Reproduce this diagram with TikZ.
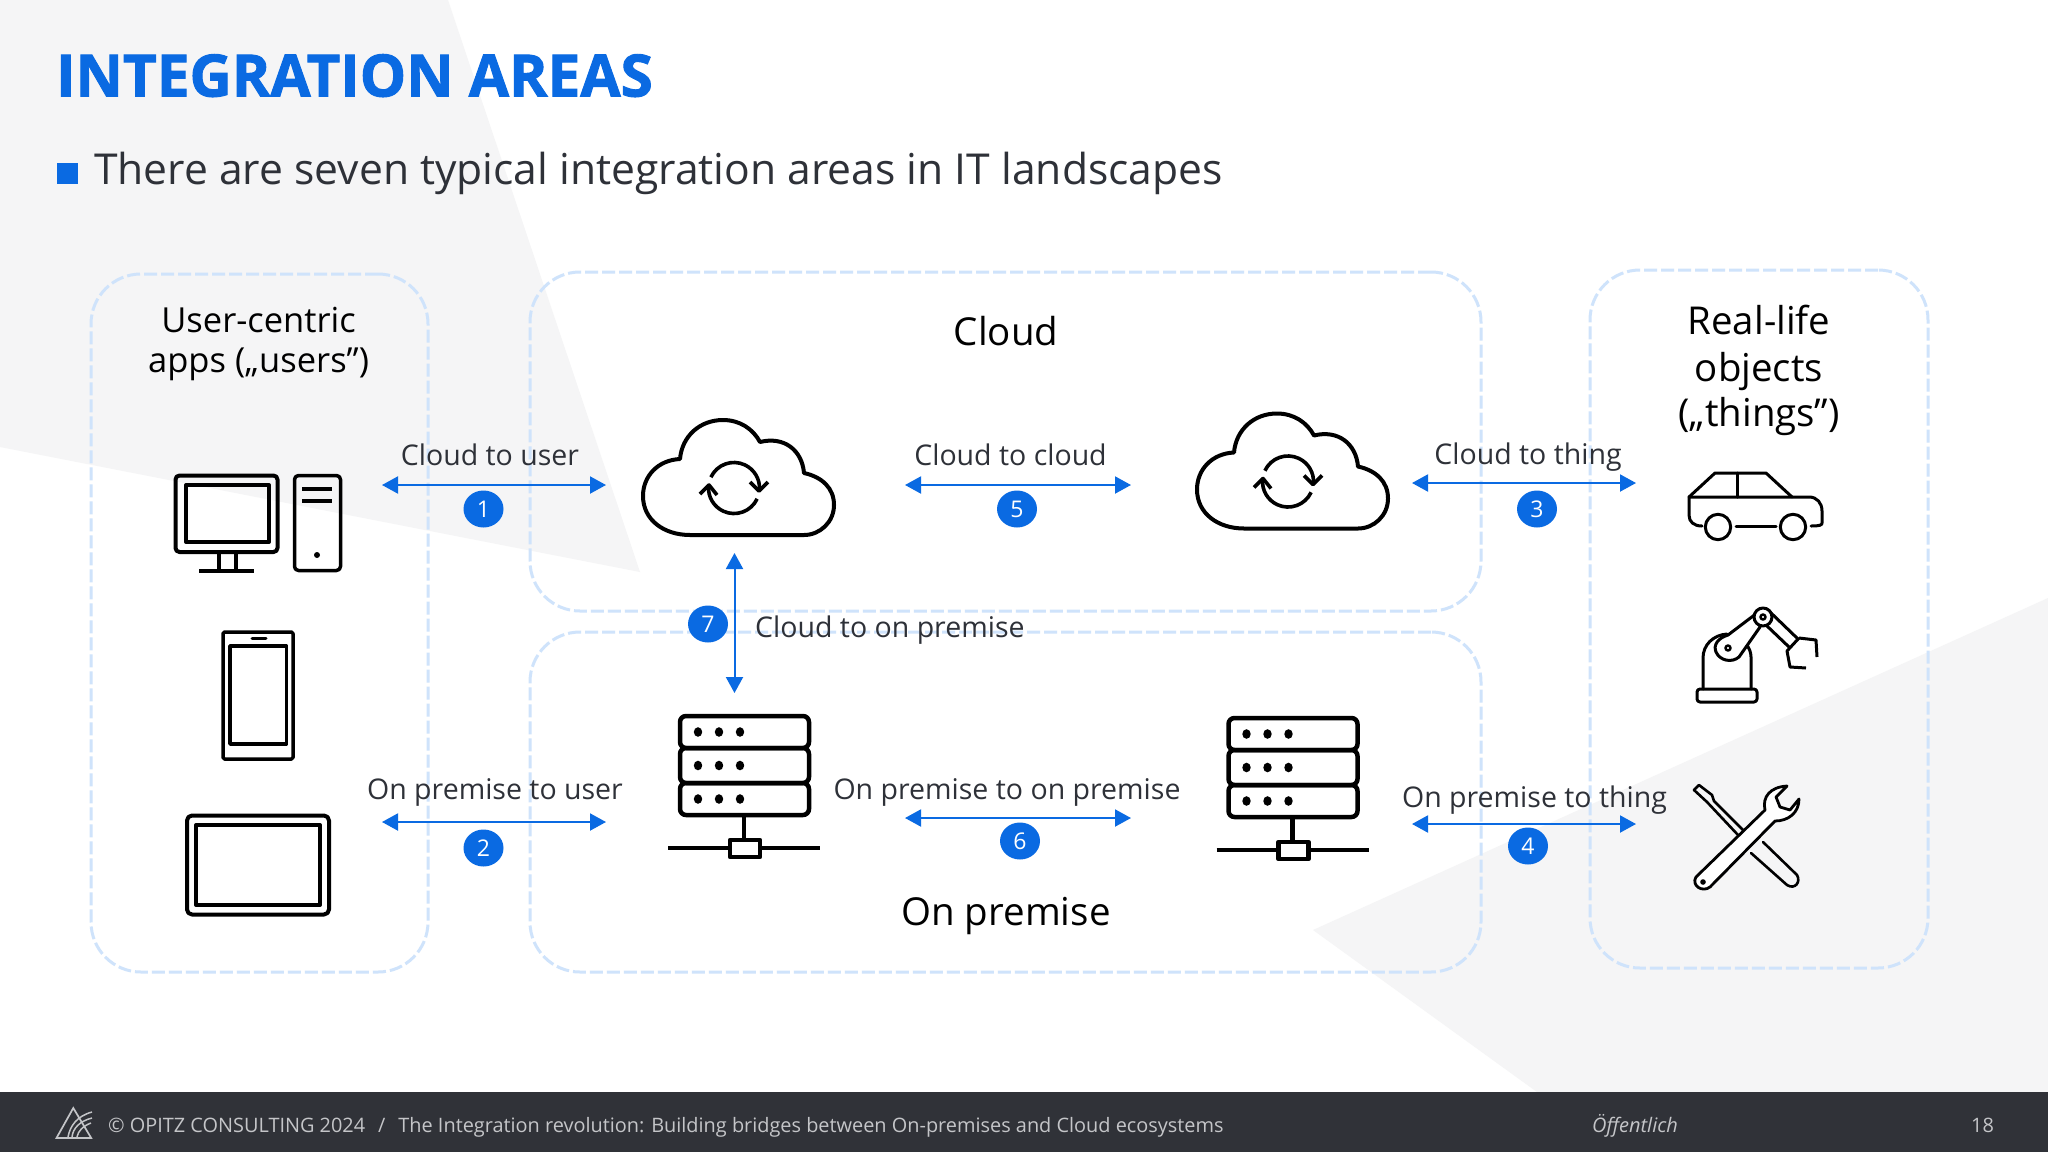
\documentclass[tikz,border=0pt]{standalone}
\usepackage{fontspec}
\usetikzlibrary{arrows.meta,shapes.geometric}
\setmainfont{Open Sans}
\newfontfamily\titlefont{Open Sans}[BoldFeatures={FakeBold=1.6}]
\definecolor{brand}{HTML}{0A6AE2}
\definecolor{boxblue}{HTML}{CFE3FB}
\definecolor{bgshade}{HTML}{F5F5F6}
\definecolor{footbar}{HTML}{303238}
\definecolor{foottext}{HTML}{C4C5C8}
\definecolor{bodytext}{HTML}{2E3138}
\newcommand{\fsz}[1]{\fontsize{#1}{#1}\selectfont}
\tikzset{
  areabox/.style={draw=boxblue,line width=3pt,dash pattern=on 13pt off 4pt,rounded corners=50pt,inner sep=0pt},
  link/.style={draw=brand,line width=2pt,{Triangle[length=16pt,width=17pt]}-{Triangle[length=16pt,width=17pt]}},
  badge/.style={ellipse,fill=brand,text=white,minimum width=40pt,minimum height=37pt,inner sep=0pt,font=\fsz{23}},
  lbl/.style={anchor=base,text=bodytext,font=\fsz{28.5},inner sep=0pt},
  head/.style={anchor=base,text=black,inner sep=0pt},
  icon/.style={draw=black,line width=4pt,line join=round,line cap=round},
  thin icon/.style={draw=black,line width=3pt,line join=round,line cap=round},
  foot/.style={anchor=base west,text=foottext,font=\fsz{19.9},inner sep=0pt},
}
\newcommand{\cloudicon}{%
  \draw[icon] (690,535) .. controls (664,535) and (643,520) .. (643,496)
    .. controls (643,476) and (658,460) .. (680,459)
    .. controls (682,436) and (700,420) .. (723,420)
    .. controls (740,420) and (753,429) .. (760,442)
    .. controls (784,436) and (802,450) .. (804,473)
    .. controls (822,477) and (834,488) .. (834,505)
    .. controls (834,522) and (820,535) .. (804,535) -- cycle;
  \draw[icon,line width=3.6pt,line cap=butt] (710.9,477.2) arc (205:364:25.5);
  \draw[icon,line width=3.6pt,line cap=butt] (757.1,498.8) arc (25:184:25.5);
  \draw[icon,line width=3.6pt,line cap=butt] (750,482) -- (759,491) -- (768,482);
  \draw[icon,line width=3.6pt,line cap=butt] (700,494) -- (709,485) -- (717,495);
}
\newcommand{\servericon}{%
  \foreach \ya/\yb in {716/748,748/783,783/815}{
    \draw[icon,line width=4.5pt,rounded corners=6pt] (680,\ya) rectangle (809,\yb);
    \foreach \dx in {698,719,740}{\fill (\dx,\ya/2+\yb/2) ellipse (4.2pt and 4.8pt);}
  }
  \draw[icon,line width=4.5pt,line cap=butt] (744,815) -- (744,848);
  \draw[icon,line width=4.5pt,line cap=butt] (668,848) -- (820,848);
  \draw[icon,line width=4.5pt,fill=white] (730,840) rectangle (760,857);
}
\begin{document}
\begin{tikzpicture}[x=1pt,y=-1pt]
\useasboundingbox (0,0) rectangle (2048,1152);
\fill[white] (0,0) rectangle (2048,1152);
% background shapes
\fill[bgshade] (0,0) -- (448,0) -- (640,572) -- (0,447) -- cycle;
\fill[bgshade] (1313,930) -- (2048,598) -- (2048,1092) -- (1537,1092) -- cycle;
% footer bar
\fill[footbar] (0,1092) rectangle (2048,1152);
% title
\node[anchor=base west,inner sep=0pt,text=brand,font=\titlefont\bfseries\fsz{58.4}] (title) at (56,96.5) {INTEGRATION AREAS};
\fill[brand] (57,163) rectangle (78,184);
\node[anchor=base west,inner sep=0pt,text=bodytext,font=\fsz{42.6}] (subtitle) at (94,184) {There are seven typical integration areas in IT landscapes};
% area boxes
\node[areabox,minimum width=337pt,minimum height=698pt] (userbox) at (259.5,623) {};
\node[areabox,minimum width=951pt,minimum height=339pt] (cloudbox) at (1005.5,441.5) {};
\node[areabox,minimum width=951pt,minimum height=340pt] (prembox) at (1005.5,802) {};
\node[areabox,minimum width=338pt,minimum height=698pt] (thingbox) at (1759,619) {};
% area headings
\node[head,font=\fsz{34.5}] (h1a) at (258.6,332) {User-centric};
\node[head,font=\fsz{34.5}] (h1b) at (258.6,372) {apps („users”)};
\node[head,font=\fsz{38.5}] (h2) at (1006,345.5) {Cloud};
\node[head,font=\fsz{38.5}] (h3) at (1006,925) {On premise};
\node[head,font=\fsz{38.4}] (h4a) at (1759,334) {Real-life};
\node[head,font=\fsz{38.4}] (h4b) at (1759,381) {objects};
\node[head,font=\fsz{38.4}] (h4c) at (1759,426) {(„things”)};
% computer
\draw[icon,rounded corners=4pt] (175.5,475.5) rectangle (277.5,552);
\draw[icon] (186,485) rectangle (269,542);
\draw[icon,line width=3.5pt] (219,553) -- (219,571) (236,553) -- (236,571);
\draw[icon,line cap=butt] (199,571) -- (254,571);
\draw[icon,line width=3.5pt,rounded corners=4pt] (294.5,475.5) rectangle (340.5,570.5);
\draw[icon,line cap=butt] (302,489) -- (332,489) (302,501) -- (332,501);
\fill (317,555) circle (3pt);
% phone
\draw[icon,line width=3.5pt,rounded corners=1.5pt] (223,632) rectangle (293,759);
\draw[icon,line width=3.5pt] (230,646) rectangle (286.5,744);
\draw[icon,line width=3pt] (252,638.5) -- (266,638.5);
% tablet
\draw[icon,rounded corners=5pt] (187,815.5) rectangle (329,914.5);
\draw[icon] (196,825) rectangle (320,905);
% clouds
\cloudicon
\begin{scope}[shift={(554,-6.5)}]\cloudicon\end{scope}
% servers
\servericon
\begin{scope}[shift={(548.5,2)}]\servericon\end{scope}
% car
\draw[thin icon] (1702,526) .. controls (1694,526) and (1689,522) .. (1689,515) -- (1689,497) -- (1715,473) -- (1766,473) -- (1792,497);
\draw[thin icon] (1689,497) -- (1809,497) .. controls (1817,497) and (1822,503) .. (1822,511) -- (1822,523) .. controls (1822,525) and (1820,526) .. (1811,526);
\draw[thin icon] (1737,473) -- (1737,497);
\draw[thin icon] (1718,527) circle (12.7pt);
\draw[thin icon] (1793,527) circle (12.7pt);
\draw[thin icon] (1736,526) -- (1776,526);
% robot
\draw[thin icon,rounded corners=3pt] (1697,702) -- (1697,689) -- (1757,689) -- (1757,702) -- cycle;
\draw[thin icon] (1703,689) -- (1703,658) .. controls (1703,645) and (1713,635) .. (1727,634);
\draw[thin icon] (1751,689) -- (1751,657) .. controls (1751,652) and (1749,647) .. (1745,643);
\draw[thin icon,fill=white] (1728,635) -- (1757,613) -- (1760,627) -- (1739,657)
  .. controls (1732,663) and (1720,661) .. (1716,652) .. controls (1713,645) and (1718,638) .. (1728,635) -- cycle;
\draw[thin icon] (1770,612) -- (1798,639) (1767,626) -- (1789,647);
\draw[thin icon,fill=white] (1763,617) circle (9pt);
\draw[thin icon,line width=2.5pt] (1763,617) circle (2.5pt);
\draw[thin icon,line width=2.5pt] (1728,648) circle (2.5pt);
\draw[thin icon,line cap=butt] (1799,638) -- (1787,651) -- (1790,667) -- (1806,668);
\draw[thin icon,line cap=butt] (1799,638) -- (1816,640) -- (1817,657);
% tools
\draw[thin icon,line width=2.6pt] (1743,830) -- (1714,801) -- (1712,795) -- (1699,785) -- (1694,790) -- (1707,802) -- (1738,835);
\draw[thin icon,line width=2.6pt] (1763,842) -- (1797,875) .. controls (1801,882) and (1795,890) .. (1787,885) -- (1751,853);
\draw[thin icon,line width=2.8pt,fill=white] (1696,877) -- (1765,810) .. controls (1762,797) and (1770,787) .. (1787,786) -- (1776,797) -- (1780,807) -- (1790,810) -- (1799,799)
  .. controls (1799,813) and (1788,821) .. (1775,821) -- (1710,887) .. controls (1702,893) and (1691,885) .. (1696,877) -- cycle;
\fill (1703,882) circle (2.8pt);
% connector anchors
\coordinate (c1a) at (382,485); \coordinate (c1b) at (606,485);
\coordinate (c2a) at (382,822); \coordinate (c2b) at (606,822);
\coordinate (c5a) at (905,485); \coordinate (c5b) at (1131,485);
\coordinate (c6a) at (905,818); \coordinate (c6b) at (1131,818);
\coordinate (c3a) at (1412,483); \coordinate (c3b) at (1636,483);
\coordinate (c4a) at (1412,824); \coordinate (c4b) at (1636,824);
\coordinate (c7a) at (734.5,553); \coordinate (c7b) at (734.5,693);
\draw[link] (c1a) -- (c1b);
\draw[link] (c2a) -- (c2b);
\draw[link] (c5a) -- (c5b);
\draw[link] (c6a) -- (c6b);
\draw[link] (c3a) -- (c3b);
\draw[link] (c4a) -- (c4b);
\draw[link] (c7a) -- (c7b);
% badges
\node[badge] (b1) at (483.5,509) {1};
\node[badge] (b2) at (483.5,848) {2};
\node[badge] (b3) at (1537,509) {3};
\node[badge] (b4) at (1528,846) {4};
\node[badge] (b5) at (1017,509) {5};
\node[badge] (b6) at (1020,841) {6};
\node[badge] (b7) at (708,624) {7};
% labels
\node[lbl] (l1) at (490,465) {Cloud to user};
\node[lbl] (l2) at (495,799) {On premise to user};
\node[lbl] (l5) at (1010.5,465) {Cloud to cloud};
\node[lbl] (l6) at (1007,799) {On premise to on premise};
\node[lbl] (l3) at (1528,464) {Cloud to thing};
\node[lbl] (l4) at (1534.5,807) {On premise to thing};
\node[lbl,anchor=base west] (l7) at (755,637) {Cloud to on premise};
% footer
\draw[foottext,line width=1.7pt,line join=miter] (56.5,1138) -- (73.3,1108) -- (91.2,1138) -- cycle;
\draw[foottext,line width=1.5pt] (68,1137) .. controls (70,1126) and (77,1116) .. (92,1112);
\draw[foottext,line width=1.5pt] (72,1137) .. controls (73,1128) and (80,1121) .. (92,1118);
\draw[foottext,line width=1.5pt] (77,1137) .. controls (78,1131) and (83,1126) .. (91,1123);
\node[foot] (f1) at (108,1132) {© OPITZ CONSULTING 2024\hspace{0.65em}/\hspace{0.65em}The Integration revolution: Building bridges between On-premises and Cloud ecosystems};
\node[foot,font=\fsz{20}\itshape] (f2) at (1592,1132) {Öffentlich};
\node[foot] (f3) at (1971,1132) {18};
\end{tikzpicture}
\end{document}
